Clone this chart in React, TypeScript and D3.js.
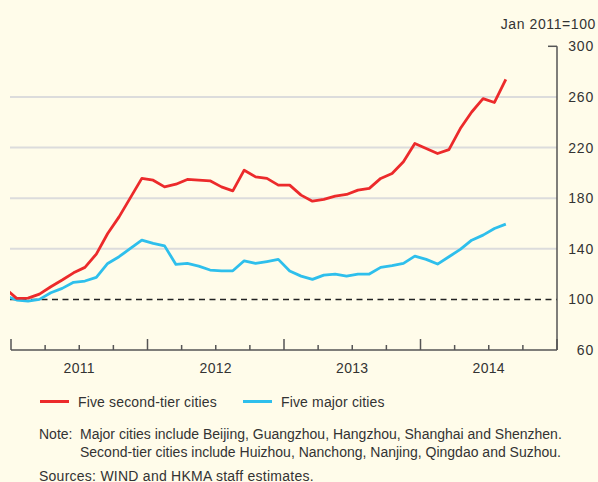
import React from "react";
import * as d3 from "d3";

// Monthly observations, Dec 2010 – Aug 2014 (index: Jan 2011 = 100)
const months: string[] = d3
  .timeMonth.range(new Date(2010, 11, 1), new Date(2014, 8, 1))
  .map((d) => d3.timeFormat("%Y-%m")(d));

const secondTier: number[] = [
  108.5,
  100.8, 101, 104.2, 110, 115.3, 121, 125.3, 135.8, 152.1, 165.2, 180.4, 195.6,
  194.2, 188.9, 191, 194.8, 194.2, 193.7, 188.9, 185.8, 202.1, 196.8, 195.6, 190.3,
  190.3, 182.4, 177.6, 179, 181.6, 182.9, 186.3, 187.7, 195.6, 199.5, 208.7, 223.2,
  219.2, 215.3, 218.4, 235, 248.1, 258.7, 255.6, 273.9,
];

const majorCities: number[] = [
  103,
  99.5, 98.7, 100, 105.2, 108.7, 113.5, 114.5, 117.4, 128.4, 133.7, 140.3, 146.8,
  144.2, 142.3, 127.6, 128.4, 126.3, 123.2, 122.6, 122.6, 130.5, 128.4, 129.9, 131.6,
  122.4, 118.4, 115.8, 119.2, 120, 118.4, 120, 120, 125.3, 126.6, 128.5, 134.2,
  131.6, 127.9, 133.7, 139.5, 146.8, 150.8, 156, 159.5,
];

const yTicks: number[] = [60, 100, 140, 180, 220, 260, 300];
const gridValues: number[] = [140, 180, 220, 260];
const yearLabels: string[] = ["2011", "2012", "2013", "2014"];
const seriesNames: string[] = ["Five second-tier cities", "Five major cities"];
const seriesColors: string[] = ["#EC2A2B", "#2EBFEC"];

const W = 598;
const H = 482;
const FONT = "'Liberation Sans', Arial, Helvetica, sans-serif";
const TEXT = "#333";
const AXIS = "#555";

export default function App() {
  const start = new Date(2011, 0, 1);
  // month index (0 = Jan 2011) -> pixel
  const x = d3.scaleLinear().domain([0, 48]).range([11, 557]);
  const y = d3.scaleLinear().domain([60, 300]).range([350, 46.3]);

  const monthIdx = (s: string) => {
    const d = d3.timeParse("%Y-%m")(s)!;
    return d3.timeMonth.count(start, d) + 0.5;
  };

  const line = d3
    .line<number>()
    .x((_, i) => x(monthIdx(months[i])))
    .y((v) => y(v));

  const quarterTicks = d3.range(0, 49, 3);

  return (
    <svg
      width={W}
      height={H}
      style={{ position: "absolute", left: 0, top: 0, display: "block" }}
      fontFamily={FONT}
    >
      <defs>
        <clipPath id="plot">
          <rect x={10} y={0} width={547} height={350} />
        </clipPath>
      </defs>
      <rect width={W} height={H} fill="#FFFCEA" />

      {/* gridlines */}
      {gridValues.map((v) => (
        <line key={v} x1={10} x2={557} y1={y(v)} y2={y(v)} stroke="#DCDCDC" strokeWidth={2} />
      ))}
      {/* baseline 100 */}
      <line
        x1={10}
        x2={557}
        y1={y(100)}
        y2={y(100)}
        stroke="#222"
        strokeWidth={1.5}
        strokeDasharray="6,4.5"
      />

      {/* series */}
      <g clipPath="url(#plot)">
        <path d={line(majorCities) || ""} fill="none" stroke={seriesColors[1]} strokeWidth={2.8} strokeLinejoin="round" />
        <path d={line(secondTier) || ""} fill="none" stroke={seriesColors[0]} strokeWidth={2.8} strokeLinejoin="round" />
      </g>

      {/* x axis */}
      <line x1={x(0)} x2={x(48)} y1={350} y2={350} stroke={AXIS} strokeWidth={1.5} />
      {quarterTicks.map((q) => (
        <line
          key={q}
          x1={x(q)}
          x2={x(q)}
          y1={350}
          y2={q % 12 === 0 ? 339 : 345}
          stroke={AXIS}
          strokeWidth={1.5}
        />
      ))}
      {yearLabels.map((t, i) => (
        <text key={t} x={x(i * 12 + 6)} y={373} textAnchor="middle" fontSize={14} fill={TEXT} letterSpacing={0.3}>
          {t}
        </text>
      ))}

      {/* right y axis */}
      <line x1={557} x2={557} y1={y(300)} y2={350} stroke={AXIS} strokeWidth={1.5} />
      <line x1={548} x2={557} y1={y(300)} y2={y(300)} stroke={AXIS} strokeWidth={1.5} />
      {yTicks.map((v) => (
        <text key={v} x={594} y={y(v) + 5} textAnchor="end" fontSize={14} fill={TEXT} letterSpacing={0.8}>
          {v}
        </text>
      ))}
      <text x={596} y={29} textAnchor="end" fontSize={14} fill={TEXT} letterSpacing={0.6}>
        Jan 2011=100
      </text>

      {/* legend */}
      {seriesNames.map((n, i) => {
        const lx = i === 0 ? 40 : 243;
        return (
          <g key={n}>
            <line x1={lx} x2={lx + 29} y1={401.5} y2={401.5} stroke={seriesColors[i]} strokeWidth={3} />
            <text x={lx + 38} y={406.5} fontSize={14} fill={TEXT} letterSpacing={0.15}>
              {n}
            </text>
          </g>
        );
      })}

      {/* notes */}
      <text x={39} y={439} fontSize={14} fill={TEXT}>Note:</text>
      <text x={80} y={439} fontSize={14} fill={TEXT}>
        Major cities include Beijing, Guangzhou, Hangzhou, Shanghai and Shenzhen.
      </text>
      <text x={80} y={457} fontSize={14} fill={TEXT}>
        Second-tier cities include Huizhou, Nanchong, Nanjing, Qingdao and Suzhou.
      </text>
      <text x={39} y={481} fontSize={14} fill={TEXT} letterSpacing={0.25}>
        Sources: WIND and HKMA staff estimates.
      </text>
    </svg>
  );
}
